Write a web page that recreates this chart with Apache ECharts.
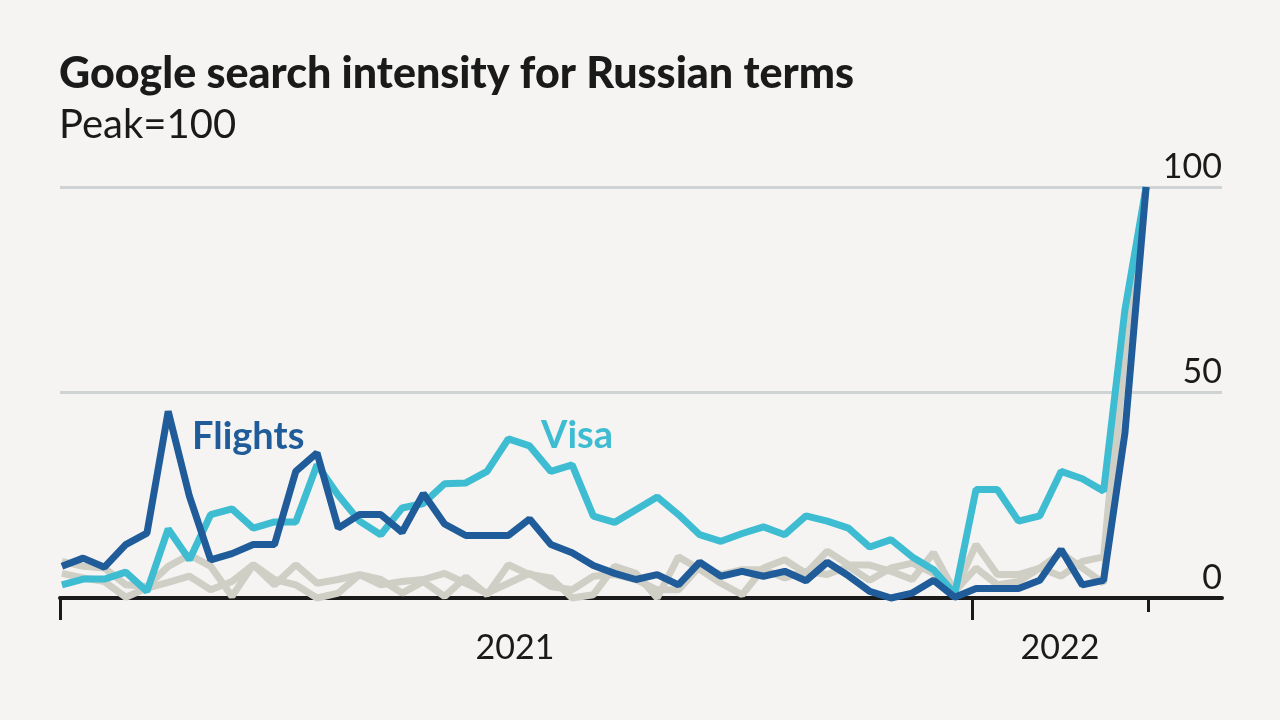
<!DOCTYPE html>
<html><head><meta charset="utf-8">
<style>html,body{margin:0;padding:0;background:#F5F4F2}#c{width:1280px;height:720px}</style>
<script src="https://cdn.jsdelivr.net/npm/echarts@6/dist/echarts.min.js"></script>
</head><body><div id="c"></div>
<script>
const flights=[7.7,9.7,7.5,13,15.8,45.4,24.7,9.3,10.8,13,13,30.8,35.3,17,20.3,20.3,16,25.4,18,15.2,15.2,15.2,19.2,13,11,7.9,6,4.5,5.7,3.2,8.7,5.3,6.5,5.3,6.5,4.2,8.7,5.4,1.6,0,1.2,4.3,0.2,2.3,2.3,2.3,4.3,11.8,3.2,4.3,40,100];
const visa=[3.2,4.6,4.6,6.3,1.6,16.8,9.3,20.3,21.7,17,18.5,18.5,32.4,25,18.7,15.4,21.9,23,27.8,28,30.8,38.7,37,30.8,32.4,19.9,18.4,21.5,24.6,20.3,15.4,13.8,15.7,17.3,15.4,20,18.7,17,12.4,14.2,10,6.9,1,26.4,26.4,18.7,20,30.8,29,26,70,100];
const greyA=[8.9,7.7,7.3,3.2,2.8,7.7,10.5,7.7,0.4,8.1,3.2,8.1,3.6,4.5,5.7,4.5,1.2,4,0.4,5.1,0.8,8.1,5.7,4.9,0,0.8,7.7,6,0,10,7,3.6,0.8,7.3,9.3,6,11.4,8.1,8,6.5,4.5,11,1.6,13,5.7,5.7,7.3,5.3,8.9,10,65,100];
const greyB=[6,4.9,4,0.2,2.4,3.8,5.3,2,4,8.1,4.5,3.2,0,1.2,5.7,3.2,4,4.5,6,3.6,1.2,3.6,6,2.8,2,5.3,5.7,4.5,2,2,7.7,5.7,6.9,6.9,4.9,6.5,5.7,7.7,4.3,7.3,8.5,6,1.6,7.3,3.2,4,7.3,11,7.3,3.6,60,100];
const yTicks=[0,50,100];
const majorTicks=[-0.09,42.8];
const minorTicks=[51.08];
const yearLabels=[[21.31,'2021'],[46.95,'2022']];
const font='Lato, "Noto Sans", sans-serif';
const ink='#1a1a1a', dark='#1F5C99', cyan='#3EBCD2', grey='#D0CFC6';
const pairs=a=>a.map((v,i)=>[i,v]);
const line=(name,data,color)=>({name,type:'line',data:pairs(data),symbol:'none',smooth:false,clip:false,silent:true,
  lineStyle:{color,width:7,join:'bevel',cap:'butt'},emphasis:{disabled:true}});
const xMin=-0.09,xMax=54.57;
const chart=echarts.init(document.getElementById('c'),null,{renderer:'canvas'});
chart.setOption({
  animation:false,backgroundColor:'#F5F4F2',
  grid:{left:60,right:58,top:187,height:411,containLabel:false},
  title:[
    {text:'Google search intensity for Russian terms',left:59,top:53,padding:0,textStyle:{fontFamily:font,fontSize:43,fontWeight:900,color:'#1a1a1a'}},
    {text:'Peak=100',left:59,top:105,padding:0,textStyle:{fontFamily:font,fontSize:40,fontWeight:400,color:'#1a1a1a'}}
  ],
  xAxis:[
    {type:'value',min:xMin,max:xMax,position:'bottom',splitLine:{show:false},
      axisLine:{show:true,onZero:false,lineStyle:{color:ink,width:4}},
      axisTick:{show:true,customValues:majorTicks,length:22,lineStyle:{color:ink,width:3}},
      axisLabel:{show:true,customValues:yearLabels.map(d=>d[0]),margin:33,color:ink,fontFamily:font,fontSize:34,
        formatter:v=>(yearLabels.find(d=>d[0]===v)||[0,''])[1]}},
    {type:'value',min:xMin,max:xMax,position:'bottom',splitLine:{show:false},
      axisLine:{show:false},
      axisTick:{show:true,customValues:minorTicks,length:14,lineStyle:{color:ink,width:3}},
      axisLabel:{show:false}}
  ],
  yAxis:{type:'value',min:0,max:100,interval:50,position:'right',
    axisLine:{show:false},axisTick:{show:false},
    splitLine:{show:true,lineStyle:{color:'#D0D3D3',width:3}},
    axisLabel:{inside:true,margin:0,align:'right',verticalAlign:'bottom',padding:[0,0,3,0],color:ink,fontFamily:font,fontSize:34,
      customValues:yTicks,formatter:v=>String(v)}},
  series:[line('Term A',greyA,grey),line('Term B',greyB,grey),line('Visa',visa,cyan),line('Flights',flights,dark)],
  graphic:[
    {type:'text',x:192,y:418,silent:true,style:{text:'Flights',fill:dark,font:'700 38px '+font}},
    {type:'text',x:541,y:417,silent:true,style:{text:'Visa',fill:cyan,font:'700 38px '+font}}
  ]
});
</script></body></html>
